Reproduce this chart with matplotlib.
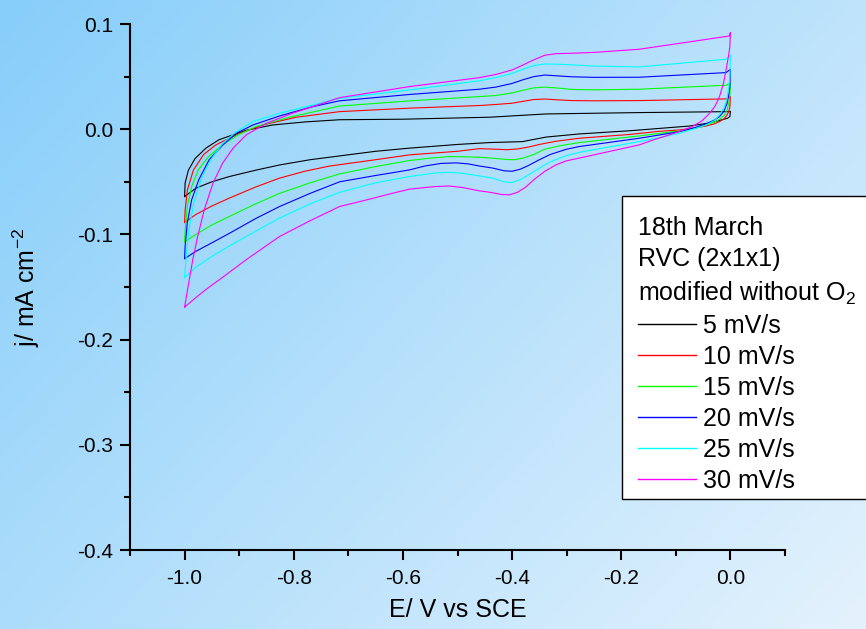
import numpy as np
import matplotlib.pyplot as plt
from matplotlib.patches import Rectangle

plt.rcParams['font.family'] = ['Liberation Sans', 'DejaVu Sans']
plt.rcParams['mathtext.fontset'] = 'custom'
plt.rcParams['mathtext.rm'] = 'Liberation Sans'
plt.rcParams['mathtext.it'] = 'Liberation Sans:italic'

# scan rates and colours
labels = ['5 mV/s', '10 mV/s', '15 mV/s', '20 mV/s', '25 mV/s', '30 mV/s']
colors = ['black', '#ff0000', '#00ff00', '#0000ff', '#00ffff', '#ff00ff']

# each CV loop: start at -1.0 V, anodic sweep up to 0 V, then back down
E_5 = [-1.0, -0.999, -0.993, -0.981, -0.961, -0.937, -0.912, -0.887, -0.839, -0.777, -0.716,
       -0.60, -0.441, -0.338, -0.167, -0.002, 0.0,
       -0.001, -0.005, -0.015, -0.038, -0.075, -0.124, -0.185, -0.277, -0.338, -0.381, -0.441,
       -0.50, -0.588, -0.65, -0.716, -0.77, -0.826, -0.87, -0.918, -0.95, -0.979, -1.0]
j_5 = [-0.064, -0.051, -0.039, -0.028, -0.018, -0.010, -0.0055, -0.001, 0.004, 0.007, 0.009,
       0.0095, 0.0114, 0.0145, 0.0158, 0.0167, 0.017,
       0.012, 0.0105, 0.009, 0.006, 0.003, 0.001, -0.0015, -0.0045, -0.0075, -0.0118, -0.0127,
       -0.0145, -0.018, -0.021, -0.0254, -0.029, -0.034, -0.039, -0.045, -0.050, -0.056, -0.064]

E_10 = [-1.0, -0.999, -0.995, -0.984, -0.965, -0.943, -0.918, -0.899, -0.857, -0.795, -0.716,
        -0.588, -0.46, -0.43, -0.40, -0.38, -0.36, -0.34, -0.32, -0.29, -0.25, -0.167, -0.008, 0.0,
        -0.001, -0.003, -0.006, -0.012, -0.020, -0.03, -0.045, -0.065, -0.093, -0.13, -0.185,
        -0.277, -0.32, -0.35, -0.37, -0.39, -0.41, -0.43, -0.46, -0.50,
        -0.588, -0.65, -0.734, -0.78, -0.826, -0.87, -0.918, -0.95, -0.979, -1.0]
j_10 = [-0.0887, -0.077, -0.058, -0.039, -0.024, -0.015, -0.0086, -0.004, 0.004, 0.0114, 0.0167,
        0.020, 0.0225, 0.0235, 0.0247, 0.0265, 0.0282, 0.0287, 0.0280, 0.0272, 0.0270, 0.0272, 0.0288, 0.031,
        0.021, 0.017, 0.0136, 0.0098, 0.0072, 0.005, 0.003, 0.0012, -0.0007, -0.002, -0.005,
        -0.0086, -0.0115, -0.0145, -0.017, -0.0188, -0.0195, -0.019, -0.0185, -0.021,
        -0.0244, -0.029, -0.035, -0.040, -0.0465, -0.055, -0.0655, -0.073, -0.081, -0.0887]

E_15 = [-1.0, -0.999, -0.995, -0.987, -0.975, -0.956, -0.931, -0.902, -0.869, -0.808, -0.716,
        -0.588, -0.46, -0.43, -0.40, -0.38, -0.36, -0.34, -0.32, -0.29, -0.25, -0.167, -0.008, 0.0,
        -0.001, -0.003, -0.006, -0.012, -0.020, -0.03, -0.045, -0.065, -0.093, -0.13, -0.167,
        -0.277, -0.31, -0.34, -0.36, -0.38, -0.395, -0.41, -0.43, -0.46, -0.49, -0.515, -0.55,
        -0.588, -0.65, -0.716, -0.77, -0.826, -0.87, -0.918, -0.95, -0.979, -1.0]
j_15 = [-0.107, -0.096, -0.0735, -0.0545, -0.0387, -0.026, -0.015, -0.0054, 0.0025, 0.0114, 0.022,
        0.0269, 0.031, 0.032, 0.0345, 0.037, 0.0393, 0.0400, 0.0393, 0.0378, 0.0374, 0.038, 0.0418, 0.0437,
        0.031, 0.025, 0.0183, 0.013, 0.0095, 0.0065, 0.004, 0.001, -0.0016, -0.004, -0.0064,
        -0.0127, -0.0155, -0.019, -0.024, -0.0275, -0.029, -0.0288, -0.0278, -0.0266, -0.0262, -0.026, -0.0275,
        -0.0298, -0.0355, -0.0425, -0.051, -0.061, -0.071, -0.083, -0.091, -0.100, -0.107]

E_20 = [-1.0, -0.999, -0.995, -0.987, -0.974, -0.955, -0.930, -0.905, -0.875, -0.826, -0.765,
        -0.716, -0.588, -0.46, -0.43, -0.40, -0.38, -0.36, -0.34, -0.32, -0.29, -0.25, -0.167, -0.008, 0.0,
        -0.001, -0.003, -0.006, -0.012, -0.020, -0.03, -0.045, -0.065, -0.093, -0.13, -0.167,
        -0.277, -0.30, -0.33, -0.35, -0.37, -0.385, -0.40, -0.415, -0.435, -0.46, -0.48, -0.502, -0.53, -0.56,
        -0.588, -0.65, -0.716, -0.77, -0.826, -0.87, -0.918, -0.95, -0.979, -1.0]
j_20 = [-0.123, -0.111, -0.089, -0.067, -0.048, -0.029, -0.015, -0.0038, 0.004, 0.0126, 0.0215,
        0.027, 0.033, 0.038, 0.040, 0.0435, 0.047, 0.050, 0.0515, 0.0508, 0.0498, 0.0493, 0.0494, 0.0538, 0.057,
        0.0405, 0.033, 0.0247, 0.017, 0.012, 0.0085, 0.005, 0.0015, -0.0023, -0.0055, -0.0086,
        -0.0165, -0.019, -0.024, -0.029, -0.0345, -0.038, -0.040, -0.0395, -0.037, -0.035, -0.033, -0.032, -0.0325, -0.035,
        -0.0387, -0.044, -0.050, -0.061, -0.0735, -0.085, -0.099, -0.108, -0.116, -0.123]

E_25 = [-1.0, -0.997, -0.992, -0.983, -0.970, -0.952, -0.930, -0.905, -0.875, -0.826, -0.765,
        -0.716, -0.588, -0.46, -0.43, -0.40, -0.38, -0.36, -0.34, -0.32, -0.29, -0.25, -0.167, -0.008, 0.0,
        -0.001, -0.003, -0.006, -0.012, -0.020, -0.03, -0.045, -0.065, -0.093, -0.13, -0.167,
        -0.277, -0.30, -0.33, -0.35, -0.37, -0.385, -0.40, -0.415, -0.435, -0.46, -0.49, -0.515, -0.54, -0.56,
        -0.588, -0.65, -0.716, -0.77, -0.826, -0.87, -0.918, -0.95, -0.979, -1.0]
j_25 = [-0.141, -0.121, -0.0956, -0.070, -0.048, -0.029, -0.0133, -0.0023, 0.0072, 0.0152, 0.023,
        0.0294, 0.0373, 0.046, 0.049, 0.053, 0.057, 0.0605, 0.062, 0.0618, 0.0612, 0.0600, 0.0592, 0.0665, 0.0706,
        0.050, 0.040, 0.0294, 0.020, 0.0136, 0.008, 0.004, 0.0005, -0.0038, -0.008, -0.0118,
        -0.022, -0.025, -0.031, -0.037, -0.0435, -0.048, -0.0507, -0.050, -0.0465, -0.0444, -0.042, -0.041, -0.0415, -0.043,
        -0.045, -0.051, -0.060, -0.071, -0.0845, -0.097, -0.111, -0.121, -0.131, -0.141]

E_30 = [-1.0, -0.985, -0.976, -0.964, -0.948, -0.930, -0.911, -0.887, -0.850, -0.802, -0.716,
        -0.588, -0.46, -0.43, -0.40, -0.38, -0.36, -0.34, -0.32, -0.29, -0.25, -0.167, -0.002, 0.0,
        -0.001, -0.004, -0.008, -0.013, -0.020, -0.028, -0.038, -0.052, -0.070, -0.09, -0.112, -0.14, -0.167,
        -0.277, -0.30, -0.32, -0.34, -0.36, -0.375, -0.39, -0.405, -0.42, -0.44, -0.46, -0.49, -0.515, -0.54, -0.56,
        -0.588, -0.62, -0.661, -0.716, -0.77, -0.826, -0.887, -0.936, -0.96, -0.979, -1.0]
j_30 = [-0.169, -0.124, -0.102, -0.0766, -0.0513, -0.032, -0.018, -0.0054, 0.0057, 0.0152, 0.030,
        0.0405, 0.049, 0.052, 0.0563, 0.061, 0.066, 0.0703, 0.0718, 0.0722, 0.0730, 0.076, 0.0886, 0.0918,
        0.0785, 0.068, 0.0563, 0.043, 0.031, 0.022, 0.0152, 0.008, 0.0025, -0.0015, -0.0054, -0.010, -0.0149,
        -0.0275, -0.030, -0.034, -0.040, -0.048, -0.055, -0.060, -0.0624, -0.062, -0.060, -0.0586, -0.0555, -0.054, -0.0545, -0.0555,
        -0.057, -0.061, -0.0665, -0.0735, -0.087, -0.102, -0.124, -0.143, -0.152, -0.160, -0.169]

curves = [(E_5, j_5), (E_10, j_10), (E_15, j_15), (E_20, j_20), (E_25, j_25), (E_30, j_30)]

fig = plt.figure(figsize=(8.66, 6.29), dpi=100)

# gradient background
bg = fig.add_axes([0, 0, 1, 1], zorder=-10)
xx, yy = np.meshgrid(np.linspace(0, 1, 200), np.linspace(0, 1, 200))
t = np.clip(0.6 * xx + 0.4 * yy, 0, 1)
c0 = np.array([135, 206, 250]) / 255
c1 = np.array([228, 242, 253]) / 255
img = c0[None, None, :] * (1 - t[..., None]) + c1[None, None, :] * t[..., None]
bg.imshow(img, aspect='auto', extent=[0, 1, 0, 1], origin='upper')
bg.axis('off')

ax = fig.add_axes([130 / 866, 79 / 629, 655 / 866, 526 / 629])
ax.patch.set_alpha(0)

for (E, j), lab, c in zip(curves, labels, colors):
    ax.plot(E, j, color=c, linewidth=0.8, label=lab)

ax.set_xlim(-1.1, 0.1)
ax.set_ylim(-0.4, 0.1)
ax.set_xticks(np.arange(-1.0, 0.01, 0.2))
ax.set_xticks(np.arange(-1.1, 0.11, 0.1), minor=True)
ax.set_yticks(np.arange(-0.4, 0.11, 0.1))
ax.set_yticks(np.arange(-0.4, 0.11, 0.05), minor=True)
fmt = plt.FuncFormatter(lambda v, _: f"{round(v, 1) + 0:.1f}")
ax.xaxis.set_major_formatter(fmt)
ax.yaxis.set_major_formatter(fmt)

for s in ['top', 'right']:
    ax.spines[s].set_visible(False)
for s in ['left', 'bottom']:
    ax.spines[s].set_linewidth(1.5)
ax.tick_params(which='major', direction='out', length=7, width=1.5, labelsize=15)
ax.tick_params(axis='x', which='major', pad=7)
ax.tick_params(axis='y', which='major', pad=5)
ax.tick_params(which='minor', direction='out', length=4, width=1.5)

ax.set_xlabel('E/ V vs SCE', fontsize=18)
ax.set_ylabel(r'j/ mA cm$^{-2}$', fontsize=18)
ax.xaxis.set_label_coords(0.5, -0.091)
ax.yaxis.set_label_coords(-0.134, 0.5)

# legend box (runs off the right edge like the original)
box = Rectangle((622 / 866, 1 - 499 / 629), 0.4, 303 / 629, transform=fig.transFigure,
                facecolor='white', edgecolor='black', linewidth=1.0, zorder=4)
fig.add_artist(box)

leg = fig.legend(loc='upper left', bbox_to_anchor=(622 / 866, 1 - 199.5 / 629),
                 title='18th March\nRVC (2x1x1)\nmodified without O$_2$',
                 alignment='left', fontsize=18, title_fontsize=18, frameon=False,
                 borderpad=0.65, labelspacing=0.28, handlelength=2.3, handletextpad=0.3,
                 borderaxespad=0)
leg.set_zorder(5)
leg.get_title().set_linespacing(1.4)
for h in leg.legend_handles:
    h.set_linewidth(1.0)

fig.savefig('out.png', dpi=100)
